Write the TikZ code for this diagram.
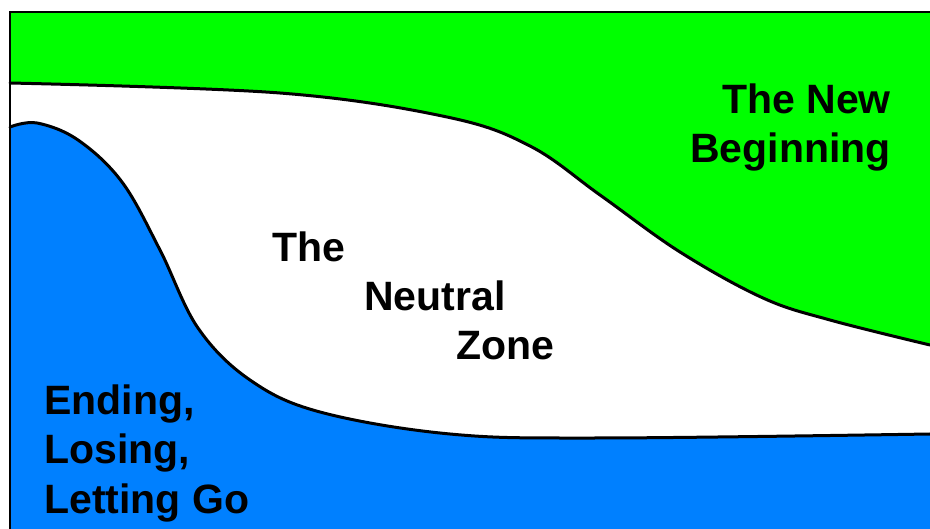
\documentclass[tikz,border=0pt]{standalone}
\usepackage{fontspec}
\setmainfont{Liberation Sans}
\definecolor{newgreen}{RGB}{0,255,0}
\definecolor{endblue}{RGB}{0,128,255}
\begin{document}
\begin{tikzpicture}[x=1pt,y=-1pt,
  curve/.style={line width=3pt,line join=round,line cap=round},
  frame/.style={line width=1.6pt},
  lbl/.style={inner sep=0pt,font=\fontsize{41}{49}\selectfont\bfseries}]
\useasboundingbox (0,0) rectangle (930,529);
\fill[white] (0,0) rectangle (930,529);
% green region
\fill[newgreen] (10,12) -- (930,12) -- (930,345)
  -- plot[smooth,tension=0.6] coordinates {(930,345) (830,320) (763,298) (680,252) (600,195) (530,146) (447,117) (280,93) (10,83)}
  -- cycle;
% blue region
\fill[endblue] (10,127)
  -- plot[smooth,tension=0.6] coordinates {(10,127) (37,123) (78,140) (122,182) (160,250) (198,328) (250,380) (320,412) (450,434) (600,438) (930,434)}
  -- (930,529) -- (10,529) -- cycle;
% boundary curves
\draw[curve] plot[smooth,tension=0.6] coordinates {(930,345) (830,320) (763,298) (680,252) (600,195) (530,146) (447,117) (280,93) (10,83)};
\draw[curve] plot[smooth,tension=0.6] coordinates {(10,127) (37,123) (78,140) (122,182) (160,250) (198,328) (250,380) (320,412) (450,434) (600,438) (930,434)};
% frame
\draw[frame] (930,12) -- (10,12) -- (10,529);
% labels
\node[lbl,anchor=base east] (nb1) at (891,114) {The New};
\node[lbl,anchor=base east] (nb2) at (891,163) {Beginning};
\node[lbl,anchor=base west] (nz1) at (272,262) {The};
\node[lbl,anchor=base west] (nz2) at (364,311) {Neutral};
\node[lbl,anchor=base west] (nz3) at (456,360) {Zone};
\node[lbl,anchor=base west] (el1) at (44,415) {Ending,};
\node[lbl,anchor=base west] (el2) at (44,464) {Losing,};
\node[lbl,anchor=base west] (el3) at (44,514) {Letting Go};
\end{tikzpicture}
\end{document}
